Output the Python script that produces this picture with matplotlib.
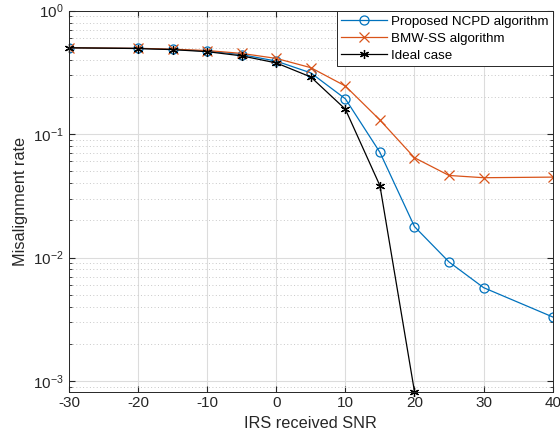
import numpy as np
import matplotlib
matplotlib.use('Agg')
import matplotlib.pyplot as plt

plt.rcParams['font.family'] = ['Liberation Sans', 'DejaVu Sans']

# SNR points (dB)
snr = [-30, -20, -15, -10, -5, 0, 5, 10, 15, 20, 25, 30, 40]
snr_ideal = [-30, -20, -15, -10, -5, 0, 5, 10, 15, 20]

# Misalignment rates
ncpd = [0.50, 0.494, 0.485, 0.47, 0.44, 0.39, 0.313, 0.193, 0.0711, 0.0178, 0.0092, 0.0057, 0.0033]
bmw_ss = [0.50, 0.495, 0.487, 0.475, 0.45, 0.41, 0.345, 0.245, 0.130, 0.0643, 0.0462, 0.0443, 0.0448]
ideal = [0.50, 0.493, 0.483, 0.465, 0.43, 0.377, 0.29, 0.159, 0.0382, 0.00082]

xticks = [-30, -20, -10, 0, 10, 20, 30, 40]

fig = plt.figure(figsize=(5.6, 4.42), dpi=100)
ax = fig.add_axes([0.123, 0.114, 0.864, 0.862])

ax.semilogy(snr, ncpd, color='#0072BD', lw=0.9, marker='o', ms=6.5,
            mfc='none', mew=0.9, label='Proposed NCPD algorithm')
ax.semilogy(snr, bmw_ss, color='#D95319', lw=0.9, marker='x', ms=6.5,
            mew=0.9, label='BMW-SS algorithm')
ax.semilogy(snr_ideal, ideal, color='black', lw=0.9, marker=(6, 2, 0), ms=6.5,
            mew=0.9, label='Ideal case', clip_on=False)

ax.set_xlim(-30, 40)
ax.set_ylim(0.00082, 1)
ax.set_xticks(xticks)
ax.set_xticklabels([str(t) for t in xticks])

ax.grid(True, which='major', color='#dcdcdc', lw=0.8, ls='-')
ax.grid(True, which='minor', axis='y', color='#c8c8c8', lw=0.7, ls=(0, (1, 2.5)))
ax.set_axisbelow(True)

ax.tick_params(which='both', direction='in', top=True, right=True,
               labelsize=11, colors='#262626')
ax.tick_params(which='major', length=4)
ax.tick_params(which='minor', length=2)
ax.xaxis.set_minor_locator(matplotlib.ticker.NullLocator())
for s in ax.spines.values():
    s.set_color('#262626')
    s.set_linewidth(0.7)

ax.set_xlabel('IRS received SNR', fontsize=11.7, color='#262626')
ax.set_ylabel('Misalignment rate', fontsize=11.7, color='#262626')

leg = ax.legend(loc='upper right', fontsize=9.6, fancybox=False, framealpha=1,
                edgecolor='#262626', borderaxespad=0, handlelength=3.4,
                borderpad=0.35, labelspacing=0.35, handletextpad=0.3)
leg.get_frame().set_linewidth(0.7)

fig.savefig('out.png', dpi=100)
